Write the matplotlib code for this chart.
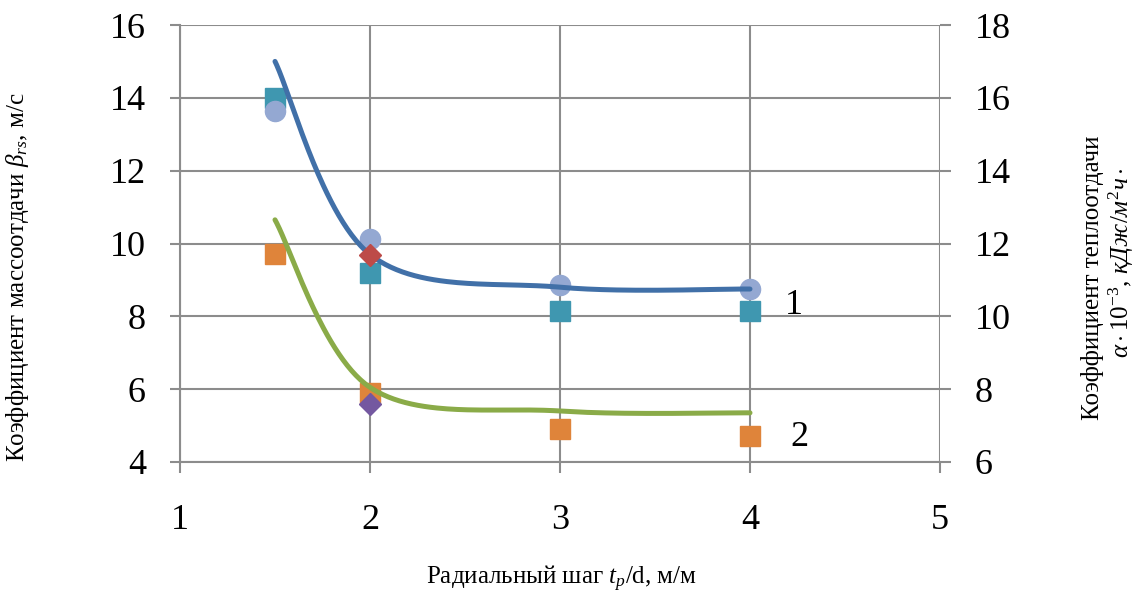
import numpy as np
import matplotlib
matplotlib.use("Agg")
import matplotlib.pyplot as plt

plt.rcParams['font.family'] = ['Liberation Serif', 'DejaVu Serif']
plt.rcParams['mathtext.fontset'] = 'custom'
plt.rcParams['mathtext.rm'] = 'Liberation Serif'
plt.rcParams['mathtext.it'] = 'Liberation Serif:italic'

# data
x_pts = [1.5, 2, 3, 4]
sq_teal = [14.0, 9.2, 8.14, 8.14]       # series 1, squares
circ_blue = [13.64, 10.12, 8.86, 8.75]  # series 1, circles
sq_orange = [9.7, 5.89, 4.9, 4.71]      # series 2, squares
diam_x = [2]
diam_red = [9.68]
diam_purple = [5.59]
curve1 = [15.0, 9.7, 8.8, 8.75]         # smoothed line 1
curve2 = [10.65, 6.05, 5.4, 5.35]       # smoothed line 2

GRID = '#8c8c8c'


def excel_smooth(xs, ys, n=60):
    # bezier segments like the "smoothed line" option in excel
    p = np.column_stack([xs, ys]).astype(float)
    m = len(p)
    out = []
    for i in range(m - 1):
        p0 = p[max(i - 1, 0)]
        p1 = p[i]
        p2 = p[i + 1]
        p3 = p[min(i + 2, m - 1)]
        c1 = p1 + (p2 - p0) / 6
        c2 = p2 - (p3 - p1) / 6
        t = np.linspace(0, 1, n)[:, None]
        seg = (1 - t) ** 3 * p1 + 3 * (1 - t) ** 2 * t * c1 + 3 * (1 - t) * t ** 2 * c2 + t ** 3 * p2
        out.append(seg if i == 0 else seg[1:])
    out = np.vstack(out)
    return out[:, 0], out[:, 1]


fig = plt.figure(figsize=(11.37, 5.99), dpi=100)
ax = fig.add_axes([180 / 1137, 1 - 462 / 599, 760 / 1137, 437 / 599])

ax.set_xlim(1, 5)
ax.set_ylim(4, 16)
ax.set_xticks([1, 2, 3, 4, 5])
ax.set_yticks([4, 6, 8, 10, 12, 14, 16])
ax.grid(True, color=GRID, linewidth=1.5)
ax.set_axisbelow(True)
for s in ['top', 'right']:
    ax.spines[s].set_visible(False)
for s in ['left', 'bottom']:
    ax.spines[s].set_color(GRID)
    ax.spines[s].set_linewidth(1.5)
ax.tick_params(axis='y', colors=GRID, labelcolor='black', labelsize=26, length=7.5, width=1.5, pad=17)
ax.tick_params(axis='x', colors=GRID, labelcolor='black', labelsize=26, length=8, width=1.5, pad=22)

ax2 = ax.twinx()
ax2.set_ylim(6, 18)
ax2.set_yticks([6, 8, 10, 12, 14, 16, 18])
for s in ax2.spines.values():
    s.set_visible(False)
ax2.tick_params(axis='y', colors=GRID, labelcolor='black', labelsize=26, length=8, width=1.5, pad=17)

# markers
ax.plot(x_pts, sq_teal, 's', color='#3f97b0', markersize=14.5, zorder=3)
ax.plot(x_pts, circ_blue, 'o', color='#94a8d2', markersize=14.5, zorder=4)
ax.plot(x_pts, sq_orange, 's', color='#df843a', markersize=14.5, zorder=3)

# smoothed lines
sx, sy = excel_smooth(x_pts, curve1)
ax.plot(sx, sy, color='#4170a8', linewidth=3.6, solid_capstyle='round', zorder=5)
sx, sy = excel_smooth(x_pts, curve2)
ax.plot(sx, sy, color='#8aab48', linewidth=3.6, solid_capstyle='round', zorder=5)

ax.plot(diam_x, diam_red, 'D', color='#bd4b48', markersize=11, zorder=6)
ax.plot(diam_x, diam_purple, 'D', color='#7458a0', markersize=11, zorder=6)

ax.text(4.23, 8.3, '1', fontsize=26, ha='center', va='center')
ax.text(4.26, 4.68, '2', fontsize=26, ha='center', va='center')

fig.text(18 / 1137, 1 - 277 / 599, r'Коэффициент массоотдачи $\beta_{rs}$, м/с',
         rotation=90, ha='center', va='center', fontsize=18)
fig.text(562 / 1137, 1 - 579 / 599, r'Радиальный шаг $t_p$/d, м/м',
         ha='center', va='center', fontsize=18)
fig.text(1092 / 1137, 1 - 278 / 599, 'Коэффициент теплоотдачи',
         rotation=90, ha='center', va='center', fontsize=18)
fig.text(1121 / 1137, 1 - 263 / 599, r'$\alpha\cdot 10^{-3}$, $кДж/м^2ч\cdot$',
         rotation=90, ha='center', va='center', fontsize=18)

fig.savefig('out.png', dpi=100)
